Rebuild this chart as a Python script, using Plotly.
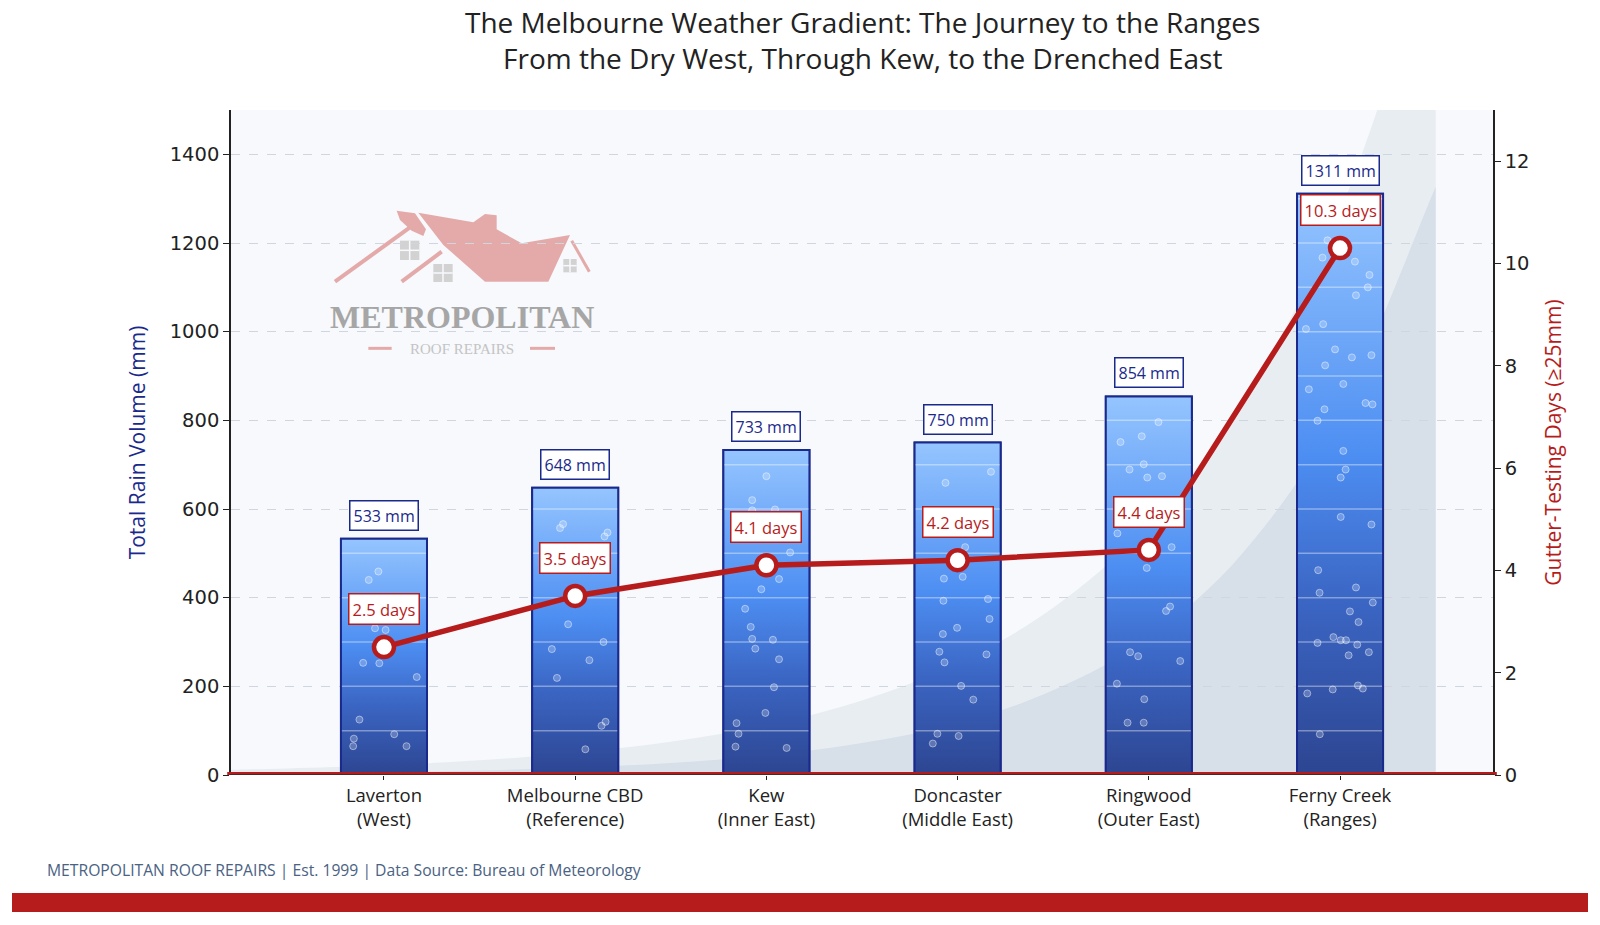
import plotly.graph_objects as go

# ---------------- data ----------------
locations = ["Laverton<br>(West)", "Melbourne CBD<br>(Reference)", "Kew<br>(Inner East)",
             "Doncaster<br>(Middle East)", "Ringwood<br>(Outer East)", "Ferny Creek<br>(Ranges)"]
rain_mm = [533, 648, 733, 750, 854, 1311]
gutter_days = [2.5, 3.5, 4.1, 4.2, 4.4, 10.3]

# decorative background "gradient hill" (x in category units, y in mm)
bg_x = [-0.8, -0.5, 0, 0.5, 1, 1.5, 2, 2.5, 3, 3.5, 4, 4.5, 5, 5.5]
bg_outer_mm = [11.7, 14.9, 22, 33, 50, 75, 112, 168, 252, 377, 566, 848, 1270, 1900]
bg_inner_mm = [2.9, 3.9, 6.3, 10.2, 16.7, 27, 44, 72, 117, 191, 310, 505, 822, 1327]

# decorative rain bubbles inside the bars:
# bar index, horizontal offset as a fraction of the bar width, height in mm
bubble_bar = ([0] * 12 + [1] * 12 + [2] * 19 + [3] * 18 + [4] * 19 + [5] * 41)
bubble_dx = [
    -0.065, -0.177, -0.104, 0.019, -0.242, -0.054, 0.381, -0.285, -0.35, -0.358, 0.119, 0.262,
    -0.141, -0.176, 0.376, 0.341, -0.082, -0.271, -0.212, 0.165, 0.329, 0.353, 0.306, 0.118,
    0, -0.165, -0.165, 0.1, 0.276, 0.147, -0.059, -0.247, -0.182, -0.165, 0.076, -0.129, 0.147,
    0.088, -0.012, -0.347, -0.324, -0.359, 0.235,
    -0.141, 0.388, 0.088, 0.059, -0.159, -0.165, 0.353, 0.371, -0.006, -0.171, 0.335, -0.212,
    -0.153, 0.041, 0.182, -0.235, 0.012, -0.288,
    0.112, -0.329, -0.082, -0.224, -0.059, -0.018, 0.153, -0.365, 0.265, -0.024, 0.2, 0.247,
    -0.218, -0.124, 0.365, -0.371, -0.053, -0.247, -0.059,
    -0.146, -0.204, 0.173, 0.342, 0.323, 0.185, -0.396, -0.196, -0.058, 0.138, 0.365, -0.173,
    -0.362, 0.038, -0.181, -0.262, 0.296, 0.377, 0.038, 0.065, 0.008, 0.008, 0.365, -0.254,
    -0.238, 0.185, 0.381, 0.115, 0.215, -0.077, 0.008, 0.069, -0.262, 0.2, 0.1, 0.335, -0.381,
    -0.085, 0.208, 0.265, -0.235]
bubble_mm = [
    459, 440, 331, 327, 253, 252, 221, 125, 82, 65, 92, 65,
    566, 557, 547, 538, 340, 284, 219, 259, 300, 120, 111, 58,
    674, 620, 597, 599, 502, 442, 419, 375, 334, 307, 305, 285, 261, 198, 140, 117, 93, 64, 61,
    659, 684, 514, 447, 443, 393, 397, 352, 332, 318, 272, 278, 254, 201, 170, 93, 88, 71,
    796, 751, 764, 689, 701, 671, 674, 545, 514, 467, 370, 380, 277, 268, 257, 206, 171, 118, 118,
    1206, 1167, 1158, 1128, 1100, 1082, 1006, 1017, 960, 942, 947, 924, 870, 882, 825, 799, 839,
    836, 731, 689, 671, 582, 565, 462, 411, 423, 389, 369, 345, 311, 304, 304, 298, 294, 270, 277,
    184, 193, 202, 195, 92]

# ---------------- style ----------------
NAVY = "#1a2a8c"
RED = "#b71c1c"
BAR_W = 0.45
FONT = "Open Sans"
GRAD = [[0, "#2d4591"], [0.3, "#3b66c4"], [0.55, "#4d8ef2"], [1, "#95c5ff"]]

L, R, T, B = 231, 107, 110, 150
W, H = 1600, 925
PW, PH = W - L - R, H - T - B


def px(fx):
    return (fx - L) / PW


def py(fy):
    return (H - B - fy) / PH


xs = list(range(len(locations)))
fig = go.Figure()

# base bars
fig.add_trace(go.Bar(x=xs, y=rain_mm, width=BAR_W,
                     marker=dict(color="#4a86e8", line=dict(color=NAVY, width=2)),
                     showlegend=False, hoverinfo="skip"))

# gradient fill over each bar
for i, v in enumerate(rain_mm):
    x0, x1 = i - BAR_W / 2, i + BAR_W / 2
    fig.add_trace(go.Scatter(x=[x0, x1, x1, x0, x0], y=[0, 0, v, v, 0], mode="lines",
                             fill="toself",
                             fillgradient=dict(type="vertical", colorscale=GRAD),
                             line=dict(color=NAVY, width=2),
                             hoverinfo="skip", showlegend=False))

# faint level lines inside bars every 100 mm
lx, ly = [], []
for i, v in enumerate(rain_mm):
    lev = 100
    while lev < v:
        lx += [i - BAR_W / 2 + 0.005, i + BAR_W / 2 - 0.005, None]
        ly += [lev, lev, None]
        lev += 100
fig.add_trace(go.Scatter(x=lx, y=ly, mode="lines",
                         line=dict(color="rgba(255,255,255,0.38)", width=1.5),
                         hoverinfo="skip", showlegend=False))

# bubbles
fig.add_trace(go.Scatter(x=[b + d * BAR_W for b, d in zip(bubble_bar, bubble_dx)], y=bubble_mm,
                         mode="markers",
                         marker=dict(size=7, color="rgba(255,255,255,0.22)",
                                     line=dict(color="rgba(255,255,255,0.45)", width=1)),
                         hoverinfo="skip", showlegend=False))

# gutter-testing days line
fig.add_trace(go.Scatter(x=xs, y=gutter_days, yaxis="y2", mode="lines+markers",
                         line=dict(color=RED, width=5.5),
                         marker=dict(size=20, color="white", line=dict(color=RED, width=4.5)),
                         showlegend=False))


# background hill shapes (smooth Catmull-Rom path)
def smooth_path(xv, yv):
    pts = list(zip(xv, yv))
    d = f"M {xv[0]},0 L {pts[0][0]},{pts[0][1]}"
    for k in range(len(pts) - 1):
        p0 = pts[k - 1] if k > 0 else pts[k]
        p1, p2 = pts[k], pts[k + 1]
        p3 = pts[k + 2] if k + 2 < len(pts) else pts[k + 1]
        c1 = (p1[0] + (p2[0] - p0[0]) / 6, p1[1] + (p2[1] - p0[1]) / 6)
        c2 = (p2[0] - (p3[0] - p1[0]) / 6, p2[1] - (p3[1] - p1[1]) / 6)
        d += f" C {c1[0]},{c1[1]} {c2[0]},{c2[1]} {p2[0]},{p2[1]}"
    d += f" L {xv[-1]},0 Z"
    return d


shapes = [
    dict(type="path", xref="x", yref="y", path=smooth_path(bg_x, bg_outer_mm),
         fillcolor="#e8edf2", line=dict(width=0), layer="below"),
    dict(type="path", xref="x", yref="y", path=smooth_path(bg_x, bg_inner_mm),
         fillcolor="#d7dfe8", line=dict(width=0), layer="below"),
]

# baseline red bar at y=0
shapes.append(dict(type="line", xref="paper", yref="y", x0=-0.003, x1=1.003, y0=0, y1=0,
                   line=dict(color=RED, width=6), layer="above"))
shapes.append(dict(type="line", xref="paper", yref="y", x0=-0.001, x1=1.001, y0=0, y1=0,
                   line=dict(color="#2a2a2a", width=1.3), layer="above"))

# footer red band
shapes.append(dict(type="rect", xref="paper", yref="paper", x0=px(12), x1=px(1588),
                   y0=py(912), y1=py(893), fillcolor=RED, line=dict(width=0), layer="above"))


# ---------- watermark logo (paper coords from picture) ----------
def lp(cx, cy):
    return px(300 + cx / 3), py(190 + cy / 3)


def poly(points):
    s = ""
    for j, (cx, cy) in enumerate(points):
        x, y = lp(cx, cy)
        s += ("M " if j == 0 else " L ") + f"{x},{y}"
    return s + " Z"


PINK = "#e4aaaa"
GREYW = "#d2d2d2"
shapes += [
    dict(type="path", xref="paper", yref="paper", layer="below", fillcolor=PINK, line=dict(width=0),
         path=poly([(355, 68), (520, 97), (555, 72), (590, 76), (590, 118), (665, 160),
                    (810, 135), (745, 275), (555, 275), (430, 165)])),
    dict(type="path", xref="paper", yref="paper", layer="below", fillcolor=PINK, line=dict(width=0),
         path=poly([(290, 62), (345, 70), (378, 118), (370, 138), (335, 122), (300, 90)])),
]
for (a, b2, wdt) in [((105, 275), (330, 112), 4), ((305, 275), (425, 185), 4), ((815, 152), (868, 245), 3)]:
    x0, y0 = lp(*a)
    x1, y1 = lp(*b2)
    shapes.append(dict(type="line", xref="paper", yref="paper", x0=x0, y0=y0, x1=x1, y1=y1,
                       line=dict(color=PINK, width=wdt), layer="below"))
for (a, b2) in [((300, 152), (358, 210)), ((400, 222), (458, 276)), ((790, 207), (830, 247))]:
    x0, y0 = lp(*a)
    x1, y1 = lp(*b2)
    shapes.append(dict(type="rect", xref="paper", yref="paper", x0=x0, y0=y0, x1=x1, y1=y1,
                       fillcolor=GREYW, line=dict(width=0), layer="below"))
    xm, ym = (x0 + x1) / 2, (y0 + y1) / 2
    shapes.append(dict(type="line", xref="paper", yref="paper", x0=xm, x1=xm, y0=y0, y1=y1,
                       line=dict(color="#f7f9fc", width=1.5), layer="below"))
    shapes.append(dict(type="line", xref="paper", yref="paper", x0=x0, x1=x1, y0=ym, y1=ym,
                       line=dict(color="#f7f9fc", width=1.5), layer="below"))
for (a, b2) in [((205, 475), (275, 475)), ((690, 475), (765, 475))]:
    x0, y0 = lp(*a)
    x1, y1 = lp(*b2)
    shapes.append(dict(type="line", xref="paper", yref="paper", x0=x0, y0=y0, x1=x1, y1=y1,
                       line=dict(color=PINK, width=3), layer="below"))

annotations = []
mx, my = lp(487, 380)
annotations.append(dict(xref="paper", yref="paper", x=mx, y=my, text="<b>METROPOLITAN</b>", showarrow=False,
                        font=dict(family="Liberation Serif", size=32, color="#a6a6a6"),
                        xanchor="center", yanchor="middle"))
rx, ry = lp(487, 478)
annotations.append(dict(xref="paper", yref="paper", x=rx, y=ry, text="ROOF REPAIRS", showarrow=False,
                        font=dict(family="Liberation Serif", size=15, color="#c4c4c4"),
                        xanchor="center", yanchor="middle"))

# title (two lines)
annotations.append(dict(xref="paper", yref="paper", x=px(862), y=py(40), xanchor="center", yanchor="middle",
                        text="The Melbourne Weather Gradient: The Journey to the Ranges<br>"
                             "From the Dry West, Through Kew, to the Drenched East",
                        showarrow=False, align="center",
                        font=dict(family=FONT, size=28, color="#222")))

# value labels
for i, v in enumerate(rain_mm):
    annotations.append(dict(x=i, y=v, xref="x", yref="y", text=f"{v} mm", showarrow=False,
                            yanchor="bottom", yshift=8,
                            font=dict(family=FONT, size=16, color=NAVY),
                            bgcolor="white", bordercolor=NAVY, borderwidth=1.5, borderpad=3))
for i, d in enumerate(gutter_days):
    annotations.append(dict(x=i, y=d, xref="x", yref="y2", text=f"{d} days", showarrow=False,
                            yanchor="bottom", yshift=22,
                            font=dict(family=FONT, size=16.5, color=RED),
                            bgcolor="white", bordercolor=RED, borderwidth=1.5, borderpad=3))

# footer text
annotations.append(dict(xref="paper", yref="paper", x=px(45), y=py(870), xanchor="left", yanchor="middle",
                        text="METROPOLITAN ROOF REPAIRS | Est. 1999 | Data Source: Bureau of Meteorology",
                        showarrow=False, font=dict(family=FONT, size=15.7, color="#4a6283")))

TICKFONT = dict(family="DejaVu Sans", size=19.5, color="#222")
fig.update_layout(
    width=W, height=H,
    margin=dict(l=L, r=R, t=T, b=B),
    paper_bgcolor="white", plot_bgcolor="#f7f9fc",
    font=dict(family=FONT, size=17, color="#222"),
    showlegend=False,
    bargap=0.5,
    xaxis=dict(range=[-0.8, 5.8], tickmode="array", tickvals=xs, ticktext=locations,
               showgrid=False, zeroline=False, showline=False,
               ticks="outside", ticklen=4, tickcolor="#222",
               tickfont=dict(family=FONT, size=18.5, color="#222")),
    yaxis=dict(range=[0, 1500], tick0=0, dtick=200, showgrid=True, gridcolor="#cfd6df",
               griddash="dash", gridwidth=1, zeroline=False,
               showline=True, linecolor="#222", linewidth=1.5,
               ticks="outside", ticklen=6, tickcolor="#222",
               tickfont=TICKFONT,
               title=dict(text="Total Rain Volume (mm)", standoff=18,
                          font=dict(family=FONT, size=21, color=NAVY))),
    yaxis2=dict(range=[0, 13], tick0=0, dtick=2, overlaying="y", side="right",
                showgrid=False, zeroline=False,
                showline=True, linecolor="#222", linewidth=1.5,
                ticks="outside", ticklen=6, tickcolor="#222",
                tickfont=TICKFONT,
                title=dict(text="Gutter-Testing Days (≥25mm)", standoff=18,
                           font=dict(family=FONT, size=21, color=RED))),
    shapes=shapes,
    annotations=annotations,
)

fig.write_html("out.html")
